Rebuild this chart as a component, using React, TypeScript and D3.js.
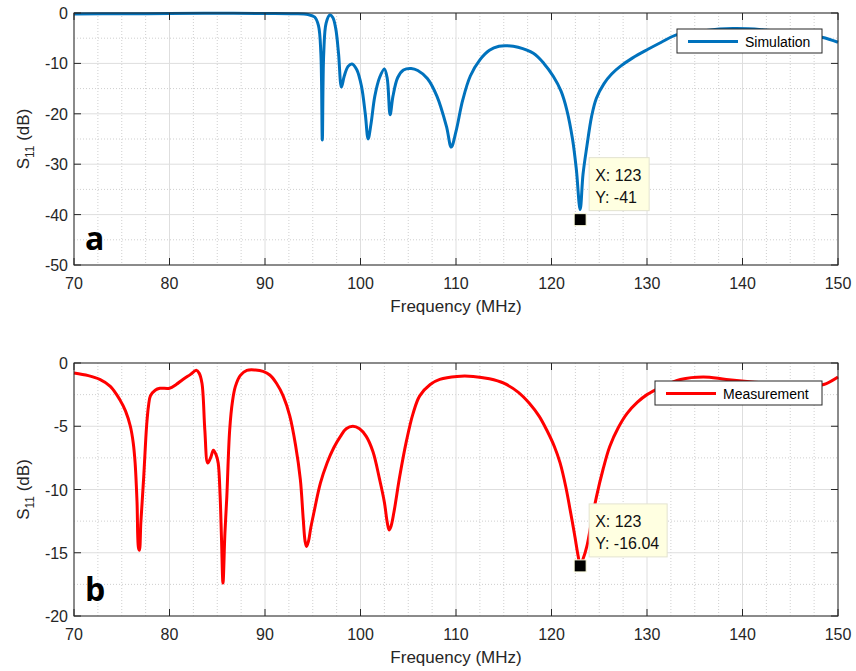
import React from 'react';
import * as d3 from 'd3';

// frequency axis ticks (MHz)
const freqTicks = [70, 80, 90, 100, 110, 120, 130, 140, 150];
const simTicks = [0, -10, -20, -30, -40, -50];
const measTicks = [0, -5, -10, -15, -20];

// simulated S11
const simFreq = [70, 75, 80, 85, 90, 93, 94.5, 95.2, 95.6, 95.85, 96.0, 96.15, 96.4, 96.8, 97.1, 97.4, 97.7, 98.0, 98.3, 98.7, 99.1, 99.6, 100.1, 100.5, 100.8, 101.1, 101.5, 102.0, 102.5, 102.8, 103.1, 103.4, 103.9, 104.5, 105.3, 106.0, 107.0, 108.0, 109.0, 109.5, 110.0, 110.7, 111.5, 112.5, 113.5, 114.5, 115.4, 116.5, 118.1, 119.2, 120.2, 121.0, 121.6, 122.2, 122.6, 123.0, 123.3, 123.7, 124.2, 124.7, 125.5, 126.3, 127.2, 128.5, 130.1, 131.5, 133.0, 136.0, 139.0, 142.0, 145.0, 148.3, 150];
const simDb = [-0.2, -0.15, -0.1, -0.05, -0.1, -0.15, -0.3, -0.8, -2.5, -8, -25.2, -8, -2, -0.4, -0.9, -3, -8, -14.7, -12.5, -10.6, -10.1, -11.2, -14.5, -20, -25, -22, -16.5, -12.8, -11.1, -13, -20.2, -16.5, -12.8, -11.3, -11, -11.4, -13, -16.5, -22.5, -26.6, -23.5, -17.3, -12.5, -9.3, -7.4, -6.6, -6.5, -6.8, -8, -10, -12.6, -15.5, -19.2, -25, -31, -39, -32, -26.5, -20.5, -16.9, -14.0, -12.1, -10.6, -8.9, -7.2, -5.8, -4.4, -3.5, -3.1, -3.3, -3.9, -4.8, -5.8];

const measFreq = [70, 71.5, 72.7, 73.8, 74.8, 75.4, 75.9, 76.2, 76.4, 76.6, 76.75, 76.85, 77.0, 77.3, 77.6, 77.8, 78.0, 78.5, 79.0, 80.0, 80.7, 81.4, 82.2, 82.8, 83.1, 83.4, 83.7, 84.0, 84.3, 84.6, 84.9, 85.1, 85.3, 85.45, 85.6, 85.8, 86.0, 86.3, 86.6, 86.9, 87.4, 88.1, 89.0, 89.8, 90.5, 91.2, 91.9, 92.6, 93.2, 93.7, 94.0, 94.2, 94.35, 94.55, 94.8, 95.1, 95.8, 96.5, 97.2, 97.9, 98.5, 99.2, 99.9, 100.6, 101.3, 102.0, 102.5, 102.8, 103.0, 103.2, 103.5, 104.1, 104.8, 105.5, 106.2, 107.3, 108.3, 110.1, 111.8, 113.5, 115.0, 116.5, 117.7, 118.7, 119.5, 120.3, 120.9, 121.5, 121.9, 122.4, 122.8, 123.0, 123.3, 123.7, 124.2, 124.7, 125.4, 126.1, 127.0, 127.9, 129.0, 130.0, 131.5, 133.5, 135.9, 138.3, 141, 144, 147, 148.5, 150];
const measDb = [-0.79, -1.0, -1.3, -1.85, -2.9, -3.8, -5.0, -6.3, -7.9, -11, -14.6, -14.8, -12.6, -9.0, -5.0, -3.4, -2.6, -2.15, -2.0, -2.0, -1.7, -1.3, -0.9, -0.58, -0.8, -1.6, -5.3, -7.9, -7.5, -6.9, -7.3, -7.9, -10.5, -14, -17.4, -13.5, -10.6, -5.3, -3.0, -1.85, -1.0, -0.58, -0.55, -0.66, -0.95, -1.6, -2.6, -4.2, -6.5, -9.2, -12.3, -14.1, -14.5, -14.1, -13.0, -11.9, -9.5, -7.9, -6.7, -5.8, -5.2, -5.0, -5.2, -5.8, -7.0, -9.2, -11, -12.6, -13.2, -12.9, -11.8, -9.0, -6.2, -4.0, -2.6, -1.7, -1.3, -1.06, -1.06, -1.25, -1.6, -2.3, -3.2, -4.2, -5.3, -6.6, -7.9, -9.8, -11.4, -13.5, -15.3, -16.0, -15.5, -14.5, -12.5, -10.6, -8.4, -6.6, -5.1, -4.0, -3.1, -2.5, -1.9, -1.3, -1.1, -1.3, -1.5, -1.7, -1.8, -1.7, -1.1];

const simTip = { x: 123, y: -41 };
const measTip = { x: 123, y: -16.04 };

const FONT = '"Liberation Sans", Arial, sans-serif';
const AX = '#262626';

type PanelProps = {
  top: number;
  bottom: number;
  yMin: number;
  yTicks: number[];
  yMinorStep: number;
  freq: number[];
  db: number[];
  color: string;
  name: string;
  legendW: number;
  legendDy: number;
  tip: { x: number; y: number };
  tipW: number;
  letter: string;
};

function Panel(p: PanelProps) {
  const left = 74;
  const right = 838;
  const x = d3.scaleLinear().domain([70, 150]).range([left, right]);
  const y = d3.scaleLinear().domain([p.yMin, 0]).range([p.bottom, p.top]);
  const xMinor = d3.range(70, 150.01, 2.5).filter(v => v % 10 !== 0);
  const yMinor = d3.range(p.yMin, 0.01, p.yMinorStep).filter(v => !p.yTicks.includes(v));
  const pts = p.freq.map((f, i) => [f, p.db[i]] as [number, number]);
  const line = d3.line<[number, number]>()
    .x(d => x(d[0]))
    .y(d => y(d[1]))
    .curve(d3.curveCatmullRom.alpha(0.5));

  const lgX = right - 16 - p.legendW;
  const lgY = p.top + p.legendDy;
  const tx = x(p.tip.x);
  const ty = y(p.tip.y);

  return (
    <g fontFamily={FONT}>
      {/* grid */}
      {xMinor.map(v => (
        <line key={'xm' + v} x1={x(v)} x2={x(v)} y1={p.top} y2={p.bottom} stroke="#cfcfcf" strokeDasharray="1,2" />
      ))}
      {yMinor.map(v => (
        <line key={'ym' + v} x1={left} x2={right} y1={y(v)} y2={y(v)} stroke="#cfcfcf" strokeDasharray="1,2" />
      ))}
      {freqTicks.map(v => (
        <line key={'xg' + v} x1={x(v)} x2={x(v)} y1={p.top} y2={p.bottom} stroke="#dedede" />
      ))}
      {p.yTicks.map(v => (
        <line key={'yg' + v} x1={left} x2={right} y1={y(v)} y2={y(v)} stroke="#dedede" />
      ))}

      {/* data */}
      <path d={line(pts) || ''} fill="none" stroke={p.color} strokeWidth={3} strokeLinejoin="round" />

      {/* box + ticks */}
      <rect x={left} y={p.top} width={right - left} height={p.bottom - p.top} fill="none" stroke={AX} strokeWidth={1} />
      {freqTicks.map(v => (
        <g key={'xt' + v}>
          <line x1={x(v)} x2={x(v)} y1={p.bottom} y2={p.bottom - 7} stroke={AX} />
          <line x1={x(v)} x2={x(v)} y1={p.top} y2={p.top + 7} stroke={AX} />
          <text x={x(v)} y={p.bottom + 24} textAnchor="middle" fontSize={16} fill={AX}>{v}</text>
        </g>
      ))}
      {p.yTicks.map(v => (
        <g key={'yt' + v}>
          <line x1={left} x2={left + 7} y1={y(v)} y2={y(v)} stroke={AX} />
          <line x1={right} x2={right - 7} y1={y(v)} y2={y(v)} stroke={AX} />
          <text x={left - 6} y={y(v) + 6} textAnchor="end" fontSize={16} fill={AX}>{v}</text>
        </g>
      ))}

      {/* axis labels */}
      <text x={(left + right) / 2} y={p.bottom + 47} textAnchor="middle" fontSize={17} fill={AX}>Frequency (MHz)</text>
      <text transform={`translate(29,${(p.top + p.bottom) / 2}) rotate(-90)`} textAnchor="middle" fontSize={17} fill={AX}>
        S<tspan fontSize={12} dy={5}>11</tspan><tspan dy={-5}> (dB)</tspan>
      </text>

      {/* legend */}
      <rect x={lgX} y={lgY} width={p.legendW} height={24} fill="#fff" stroke={AX} strokeWidth={1} />
      <line x1={lgX + 11} x2={lgX + 61} y1={lgY + 12.5} y2={lgY + 12.5} stroke={p.color} strokeWidth={3} />
      <text x={lgX + 68} y={lgY + 17.5} fontSize={14} fill="#000">{p.name}</text>

      {/* data tip */}
      <rect x={tx + 9} y={ty - 62} width={p.tipW} height={53} fill="#ffffe1" stroke="#e3e3d0" />
      <text x={tx + 15} y={ty - 39} fontSize={16} fill="#111">X: {p.tip.x}</text>
      <text x={tx + 15} y={ty - 17} fontSize={16} fill="#111">Y: {p.tip.y}</text>
      <rect x={tx - 6} y={ty - 6} width={12} height={12} fill="#000" stroke="#ffffe1" strokeWidth={1} />

      {/* panel letter */}
      <text x={85} y={p.bottom - 15} fontSize={32} fontWeight="bold" fill="#000" fontFamily='"Open Sans", "Liberation Sans", sans-serif'>{p.letter}</text>
    </g>
  );
}

export default function App() {
  return (
    <svg width={856} height={671} style={{ position: 'absolute', left: 0, top: 0, background: '#fff' }}>
      <rect width={856} height={671} fill="#fff" />
      <Panel top={13} bottom={265} yMin={-50} yTicks={simTicks} yMinorStep={5}
        freq={simFreq} db={simDb} color="#0072bd" name="Simulation" legendW={145} legendDy={16}
        tip={simTip} tipW={60} letter="a" />
      <Panel top={363} bottom={616} yMin={-20} yTicks={measTicks} yMinorStep={2.5}
        freq={measFreq} db={measDb} color="#ff0000" name="Measurement" legendW={167} legendDy={18}
        tip={measTip} tipW={78} letter="b" />
    </svg>
  );
}
